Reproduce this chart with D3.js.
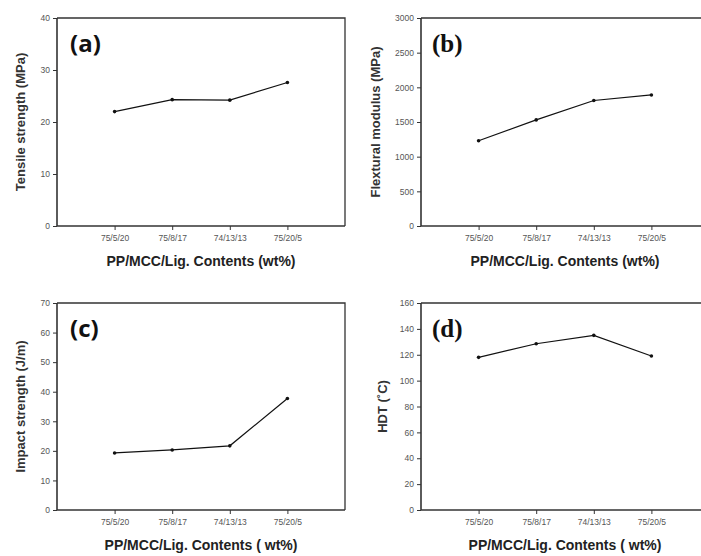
<!DOCTYPE html>
<html>
<head>
<meta charset="utf-8">
<script src="https://cdn.jsdelivr.net/npm/d3@7"></script>
<style>
  body { margin: 0; background: #fff; }
  svg { display: block; }
</style>
</head>
<body>
<svg id="chart" width="701" height="556"></svg>
<script>
// Data
var contents = ["75/5/20", "75/8/17", "74/13/13", "75/20/5"];
var tensile = [22.0, 24.3, 24.2, 27.6];
var flexural = [1230, 1530, 1810, 1890];
var impact = [19.3, 20.3, 21.7, 37.7];
var hdt = [118, 128.5, 135, 119];

var tensileTicks = [0, 10, 20, 30, 40];
var flexuralTicks = [0, 500, 1000, 1500, 2000, 2500, 3000];
var impactTicks = [0, 10, 20, 30, 40, 50, 60, 70];
var hdtTicks = [0, 20, 40, 60, 80, 100, 120, 140, 160];

var panels = [
  { tag: "(a)", serif: false, values: tensile, ticks: tensileTicks, ymax: 40,
    ytitle: "Tensile strength (MPa)", xtitle: "PP/MCC/Lig. Contents (wt%)",
    x0: 57, x1: 345, y0: 18, y1: 226, ty: 37 },
  { tag: "(b)", serif: true, values: flexural, ticks: flexuralTicks, ymax: 3000,
    ytitle: "Flextural modulus (MPa)", xtitle: "PP/MCC/Lig. Contents (wt%)",
    x0: 421, x1: 709, y0: 18, y1: 226, ty: 46 },
  { tag: "(c)", serif: false, values: impact, ticks: impactTicks, ymax: 70,
    ytitle: "Impact strength (J/m)", xtitle: "PP/MCC/Lig. Contents ( wt%)",
    x0: 57, x1: 345, y0: 303, y1: 510, ty: 37 },
  { tag: "(d)", serif: true, values: hdt, ticks: hdtTicks, ymax: 160,
    ytitle: "HDT (\u02DAC)", xtitle: "PP/MCC/Lig. Contents ( wt%)",
    x0: 421, x1: 709, y0: 303, y1: 510, ty: 39 }
];

var svg = d3.select("#chart");
var axisColor = "#333";

panels.forEach(function(p) {
  var g = svg.append("g");

  var x = d3.scalePoint().domain(contents).range([p.x0, p.x1]).padding(1);
  var y = d3.scaleLinear().domain([0, p.ymax]).range([p.y1, p.y0]);

  // frame: top and right
  g.append("path")
    .attr("d", "M" + p.x0 + "," + p.y0 + "H" + p.x1 + "V" + p.y1)
    .attr("fill", "none")
    .attr("stroke", axisColor)
    .attr("stroke-width", 1.3);

  var yAxis = g.append("g")
    .attr("transform", "translate(" + p.x0 + ",0)")
    .call(d3.axisLeft(y).tickValues(p.ticks).tickFormat(d3.format("d")).tickSize(4).tickPadding(3));
  var xAxis = g.append("g")
    .attr("transform", "translate(0," + p.y1 + ")")
    .call(d3.axisBottom(x).tickSize(4).tickPadding(5));

  [yAxis, xAxis].forEach(function(a) {
    a.select(".domain").attr("stroke", axisColor).attr("stroke-width", 1.6);
    a.selectAll(".tick line").attr("stroke", axisColor).attr("stroke-width", 1);
    a.selectAll("text")
      .attr("fill", "#555")
      .style("font-family", "'Liberation Sans', Arial, sans-serif")
      .style("font-size", "8.5px");
  });
  // draw domain as plain line without end caps
  yAxis.select(".domain").attr("d", "M0," + p.y0 + "V" + p.y1);
  xAxis.select(".domain").attr("d", "M" + p.x0 + ",0H" + p.x1);

  // data line and markers
  var line = d3.line()
    .x(function(d, i) { return x(contents[i]); })
    .y(function(d) { return y(d); });

  g.append("path")
    .datum(p.values)
    .attr("d", line)
    .attr("fill", "none")
    .attr("stroke", "#111")
    .attr("stroke-width", 1.2);

  g.selectAll("circle")
    .data(p.values)
    .enter().append("circle")
    .attr("cx", function(d, i) { return x(contents[i]); })
    .attr("cy", function(d) { return y(d); })
    .attr("r", 1.8)
    .attr("fill", "#111");

  // panel tag
  g.append("text")
    .attr("x", p.x0 + (p.serif ? 11 : 13))
    .attr("y", p.y0 + 34)
    .attr("fill", "#111")
    .style("font-family", p.serif ? "'Liberation Serif', 'Times New Roman', serif" : "'Open Sans', 'DejaVu Sans', sans-serif")
    .style("font-weight", "bold")
    .style("font-size", p.serif ? "25px" : "24px")
    .text(p.tag);

  // y title
  g.append("text")
    .attr("transform", "translate(" + (p.x0 - p.ty) + "," + ((p.y0 + p.y1) / 2) + ") rotate(-90)")
    .attr("text-anchor", "middle")
    .attr("dy", "0.35em")
    .attr("fill", "#333")
    .style("font-family", "'Liberation Sans', Arial, sans-serif")
    .style("font-weight", "bold")
    .style("font-size", "13px")
    .text(p.ytitle);

  // x title
  g.append("text")
    .attr("x", (p.x0 + p.x1) / 2)
    .attr("y", p.y1 + 40)
    .attr("text-anchor", "middle")
    .attr("fill", "#222")
    .style("font-family", "'Liberation Sans', Arial, sans-serif")
    .style("font-weight", "bold")
    .style("font-size", "14px")
    .text(p.xtitle);
});
</script>
</body>
</html>
